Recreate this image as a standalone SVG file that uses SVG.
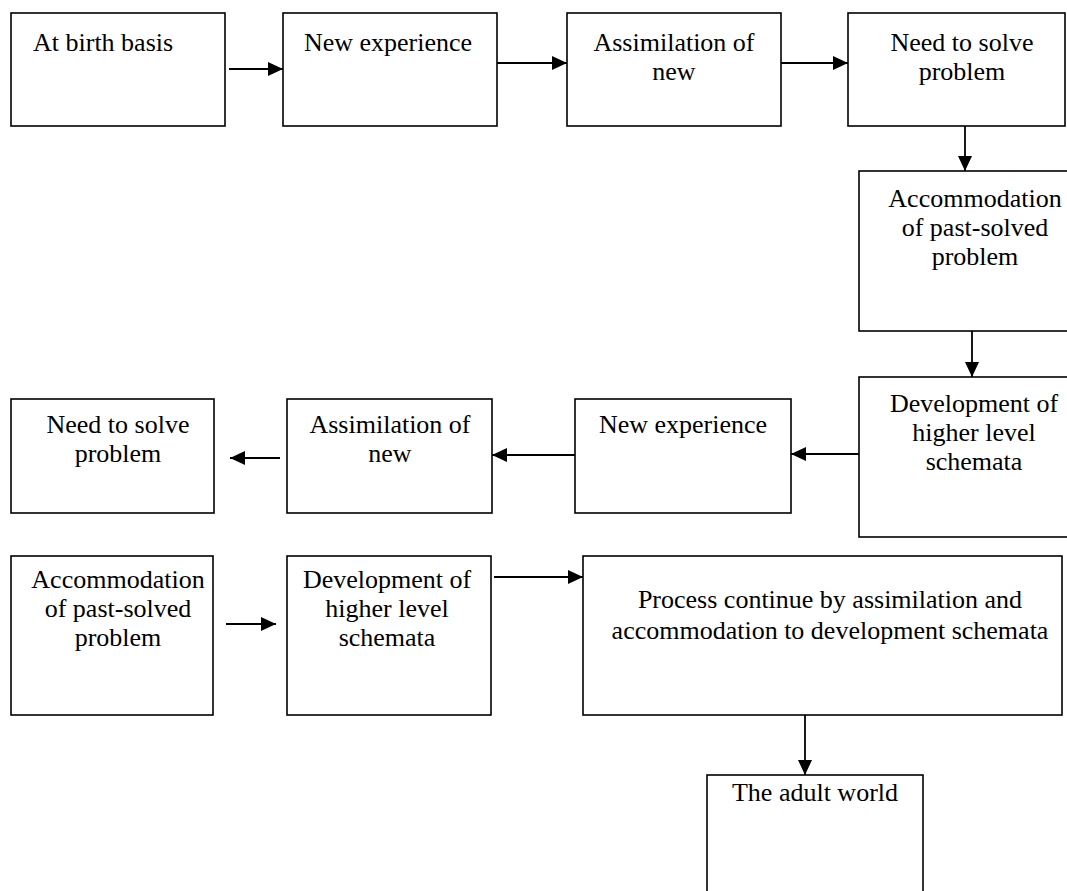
<svg xmlns="http://www.w3.org/2000/svg" width="1067" height="891" viewBox="0 0 1067 891">
<defs>
<marker id="ah" markerUnits="userSpaceOnUse" markerWidth="15" markerHeight="14" refX="15" refY="7" orient="auto">
<path d="M0,0 L15,7 L0,14 z" fill="#000"/>
</marker>
<style>
.box{fill:#fff;stroke:#000;stroke-width:1.6}
.t{font-family:"Liberation Serif","Times New Roman",serif;font-size:26px;fill:#000;text-anchor:middle}
.c{fill:none;stroke:#000;stroke-width:1.8;marker-end:url(#ah)}
</style>
</defs>
<rect x="0" y="0" width="1067" height="891" fill="#fff"/>
<g id="n1"><rect class="box" x="11" y="13" width="214" height="113"/><text class="t" x="33" y="51" style="text-anchor:start">At birth basis</text></g>
<g id="n2"><rect class="box" x="283" y="13" width="214" height="113"/><text class="t" x="388" y="51">New experience</text></g>
<g id="n3"><rect class="box" x="567" y="13" width="214" height="113"/><text class="t" x="674" y="51">Assimilation of</text><text class="t" x="674" y="80">new</text></g>
<g id="n4"><rect class="box" x="848" y="13" width="217" height="113"/><text class="t" x="962" y="51">Need to solve</text><text class="t" x="962" y="80">problem</text></g>
<g id="n5"><rect class="box" x="859" y="171" width="240" height="160"/><text class="t" x="975" y="207">Accommodation</text><text class="t" x="975" y="236">of past-solved</text><text class="t" x="975" y="265">problem</text></g>
<g id="n6"><rect class="box" x="859" y="377" width="240" height="160"/><text class="t" x="974" y="412">Development of</text><text class="t" x="974" y="441">higher level</text><text class="t" x="974" y="470">schemata</text></g>
<g id="n7"><rect class="box" x="575" y="399" width="216" height="114"/><text class="t" x="683" y="433">New experience</text></g>
<g id="n8"><rect class="box" x="287" y="399" width="205" height="114"/><text class="t" x="390" y="433">Assimilation of</text><text class="t" x="390" y="462">new</text></g>
<g id="n9"><rect class="box" x="11" y="399" width="203" height="114"/><text class="t" x="118" y="433">Need to solve</text><text class="t" x="118" y="462">problem</text></g>
<g id="n10"><rect class="box" x="11" y="556" width="202" height="159"/><text class="t" x="118" y="588">Accommodation</text><text class="t" x="118" y="617">of past-solved</text><text class="t" x="118" y="646">problem</text></g>
<g id="n11"><rect class="box" x="287" y="556" width="204" height="159"/><text class="t" x="387" y="588">Development of</text><text class="t" x="387" y="617">higher level</text><text class="t" x="387" y="646">schemata</text></g>
<g id="n12"><rect class="box" x="583" y="556" width="479" height="159"/><text class="t" x="830" y="608">Process continue by assimilation and</text><text class="t" x="830" y="639">accommodation to development schemata</text></g>
<g id="n13"><rect class="box" x="707" y="775" width="216" height="130"/><text class="t" x="815" y="801">The adult world</text></g>
<g id="connectors">
<line class="c" x1="229" y1="69" x2="283" y2="69"/>
<line class="c" x1="497" y1="63" x2="567" y2="63"/>
<line class="c" x1="781" y1="63" x2="848" y2="63"/>
<line class="c" x1="965" y1="126" x2="965" y2="171"/>
<line class="c" x1="972" y1="331" x2="972" y2="377"/>
<line class="c" x1="859" y1="454" x2="791" y2="454"/>
<line class="c" x1="575" y1="455" x2="492" y2="455"/>
<line class="c" x1="280" y1="458" x2="230" y2="458"/>
<line class="c" x1="226" y1="624" x2="276" y2="624"/>
<line class="c" x1="494" y1="577" x2="583" y2="577"/>
<line class="c" x1="805" y1="715" x2="805" y2="775"/>
</g>
</svg>
